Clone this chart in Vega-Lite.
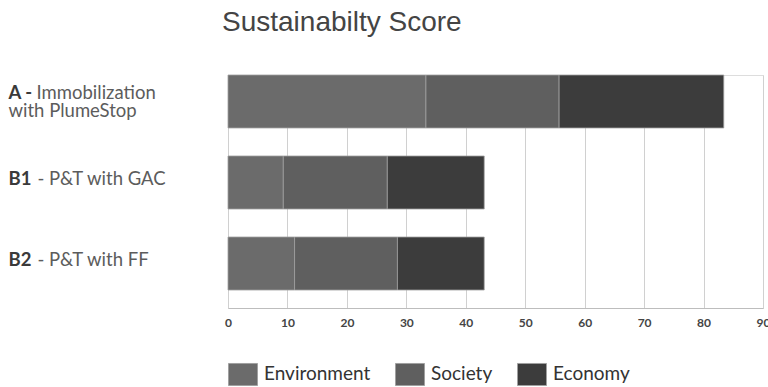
{
  "$schema": "https://vega.github.io/schema/vega-lite/v6.json",
  "width": 535,
  "height": 233,
  "autosize": {"type": "none"},
  "padding": {"left": 228, "top": 75, "right": 5, "bottom": 79},
  "background": "white",
  "title": {
    "text": "Sustainabilty Score",
    "anchor": "start",
    "frame": "group",
    "font": "Liberation Sans",
    "fontSize": 28,
    "fontWeight": "normal",
    "color": "#444444",
    "offset": 38,
    "dx": -6
  },
  "data": {
    "values": [
      {"option": "A", "dimension": "Environment", "score": 33.3},
      {"option": "A", "dimension": "Society", "score": 22.4},
      {"option": "A", "dimension": "Economy", "score": 27.7},
      {"option": "B1", "dimension": "Environment", "score": 9.3},
      {"option": "B1", "dimension": "Society", "score": 17.5},
      {"option": "B1", "dimension": "Economy", "score": 16.3},
      {"option": "B2", "dimension": "Environment", "score": 11.2},
      {"option": "B2", "dimension": "Society", "score": 17.3},
      {"option": "B2", "dimension": "Economy", "score": 14.6}
    ]
  },
  "transform": [
    {"calculate": "indexof(['Environment', 'Society', 'Economy'], datum.dimension)", "as": "stackOrder"}
  ],
  "resolve": {"axis": {"y": "independent"}},
  "layer": [
    {
      "mark": {"type": "bar", "stroke": "#a0a0a0", "strokeWidth": 0.8},
      "encoding": {
        "y": {
          "field": "option",
          "type": "nominal",
          "sort": ["A", "B1", "B2"],
          "scale": {"paddingInner": 0.346, "paddingOuter": 0.111, "align": 0},
          "axis": {
            "orient": "left",
            "title": null,
            "domain": false,
            "ticks": false,
            "grid": false,
            "labelAlign": "left",
            "labelBaseline": "middle",
            "labelPadding": {"condition": {"test": "datum.value == 'A'", "value": 192}, "value": 191},
            "labelOffset": {"condition": {"test": "datum.value == 'A'", "value": -8.5}, "value": -3.5},
            "labelFont": "Lato",
            "labelFontSize": 18.5,
            "labelLineHeight": 18,
            "labelColor": "#5c5c5c",
            "labelLimit": 0,
            "labelExpr": "datum.value == 'A' ? ['Immobilization', ''] : datum.value == 'B1' ? '- P&T with GAC' : '- P&T with FF'"
          }
        },
        "x": {
          "field": "score",
          "type": "quantitative",
          "stack": "zero",
          "scale": {"domain": [0, 90], "nice": false},
          "axis": {
            "title": null,
            "values": [0, 10, 20, 30, 40, 50, 60, 70, 80, 90],
            "grid": true,
            "gridColor": "#d0d0d0",
            "domainColor": "#bdbdbd",
            "ticks": false,
            "labelFont": "Lato",
            "labelFontSize": 12,
            "labelFontWeight": "bold",
            "labelColor": "#444444",
            "labelPadding": 9,
            "labelFlush": false,
            "labelOverlap": false
          }
        },
        "order": {"field": "stackOrder", "type": "quantitative"},
        "color": {
          "field": "dimension",
          "type": "nominal",
          "sort": ["Environment", "Society", "Economy"],
          "scale": {
            "domain": ["Environment", "Society", "Economy"],
            "range": ["#6b6b6b", "#5f5f5f", "#3c3c3c"]
          },
          "legend": {
            "title": null,
            "orient": "bottom",
            "direction": "horizontal",
            "symbolType": "M-1,-0.76H1V0.76H-1Z",
            "symbolSize": 841,
            "symbolStrokeColor": "#a0a0a0",
            "symbolStrokeWidth": 1,
            "symbolOpacity": 1,
            "labelFont": "Lato",
            "labelFontSize": 19,
            "labelColor": "#333333",
            "labelOffset": 6,
            "columnPadding": 22,
            "offset": 31
          }
        }
      }
    },
    {
      "mark": {"type": "bar", "opacity": 0},
      "encoding": {
        "y": {
          "field": "option",
          "type": "nominal",
          "sort": ["A", "B1", "B2"],
          "axis": {
            "orient": "left",
            "title": null,
            "domain": false,
            "ticks": false,
            "grid": false,
            "labelAlign": "left",
            "labelBaseline": "middle",
            "labelPadding": 220,
            "labelOffset": {"condition": {"test": "datum.value == 'A'", "value": -8.5}, "value": -3.5},
            "labelFont": "Lato",
            "labelFontSize": 18.5,
            "labelFontWeight": "bold",
            "labelLineHeight": 18,
            "labelColor": "#3a3a3a",
            "labelLimit": 0,
            "labelExpr": "datum.value == 'A' ? ['A -', ''] : datum.value"
          }
        },
        "x": {"field": "score", "type": "quantitative", "stack": "zero"},
        "order": {"field": "stackOrder", "type": "quantitative"}
      }
    },
    {
      "mark": {"type": "bar", "opacity": 0},
      "encoding": {
        "y": {
          "field": "option",
          "type": "nominal",
          "sort": ["A", "B1", "B2"],
          "axis": {
            "orient": "left",
            "title": null,
            "domain": false,
            "ticks": false,
            "grid": false,
            "labelAlign": "left",
            "labelBaseline": "middle",
            "labelPadding": 220,
            "labelOffset": {"condition": {"test": "datum.value == 'A'", "value": -8.5}, "value": -3.5},
            "labelFont": "Lato",
            "labelFontSize": 18.5,
            "labelLineHeight": 18,
            "labelColor": "#5c5c5c",
            "labelLimit": 0,
            "labelExpr": "datum.value == 'A' ? ['', 'with PlumeStop'] : ''"
          }
        },
        "x": {"field": "score", "type": "quantitative", "stack": "zero"},
        "order": {"field": "stackOrder", "type": "quantitative"}
      }
    }
  ]
}
